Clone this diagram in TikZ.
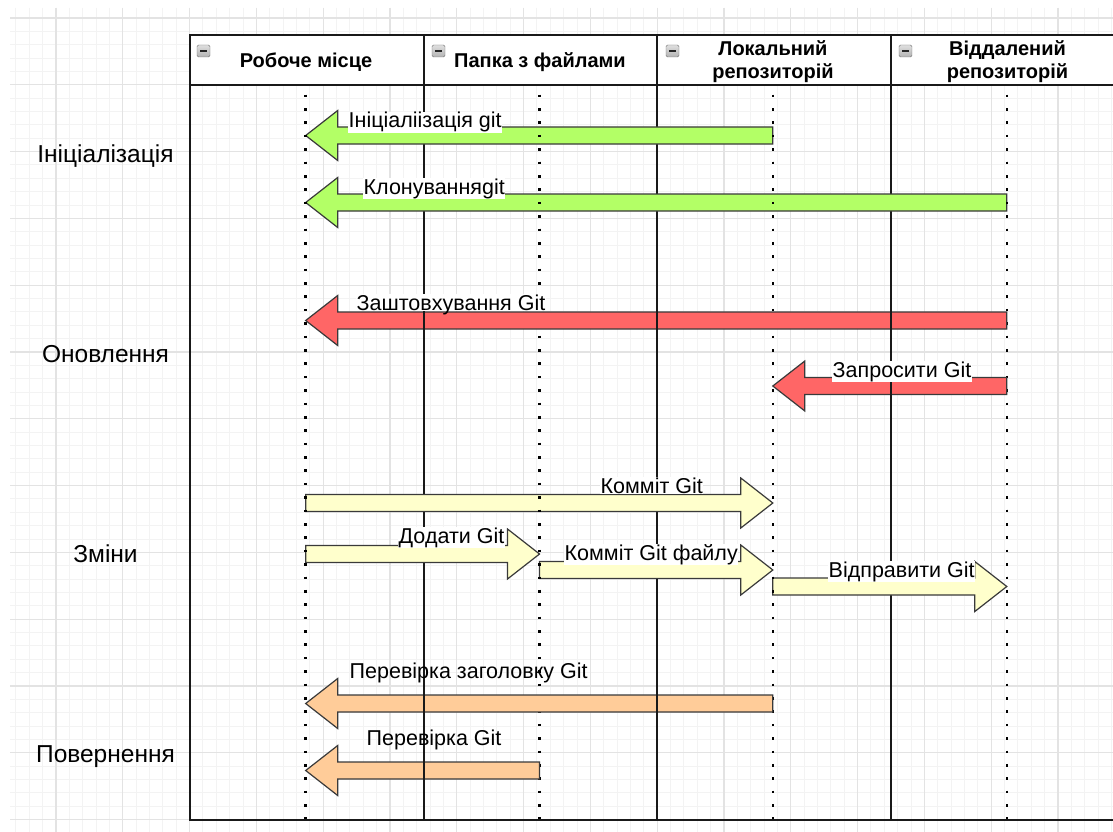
\documentclass[tikz,border=0pt]{standalone}
\usepackage{fontspec}
\setmainfont{Liberation Sans}
\definecolor{grnF}{HTML}{B3FF66}
\definecolor{redF}{HTML}{FF6666}
\definecolor{yelF}{HTML}{FFFFCC}
\definecolor{orgF}{HTML}{FFCC99}
\definecolor{gridMaj}{HTML}{E3E3E3}
\definecolor{gridMin}{HTML}{F3F3F3}
\definecolor{edgeC}{HTML}{3A3A3A}
\newcommand{\xW}{305.7}
\newcommand{\xF}{539.5}
\newcommand{\xL}{772.8}
\newcommand{\xR}{1006.8}
% block arrow: name, tail x, tip x, centre y, fill colour
\newcommand{\blkarrow}[5]{%
  \pgfmathsetmacro{\hx}{(#3<#2) ? #3+32 : #3-32}%
  \draw[blockarrow,fill=#5] (#2,#4-8.5) coordinate (#1-tail) -- (\hx,#4-8.5) -- (\hx,#4-25) -- (#3,#4) coordinate (#1-tip) -- (\hx,#4+25) -- (\hx,#4+8.5) -- (#2,#4+8.5) -- cycle;}
\newcommand{\minusicon}[2]{%
  \draw[iconbox] (#1,#2) rectangle ++(13,12);
  \draw[line width=1.4pt, black!85] (#1+3,#2+6) -- (#1+10,#2+6);}
\begin{document}
\begin{tikzpicture}[x=1pt,y=-1pt,
  blockarrow/.style={draw=edgeC, line width=1.2pt, line join=miter},
  lifeline/.style={line width=2.6pt, black, dash pattern=on 2.6pt off 10.785pt},
  frameline/.style={line width=2pt, black!90},
  divider/.style={line width=1.7pt, black!90},
  iconbox/.style={rounded corners=1.5pt, draw=black!55, top color=gray!25, bottom color=gray!60},
  hdr/.style={font=\fontsize{20}{23}\selectfont\bfseries, inner sep=0pt, text=black},
  side/.style={font=\fontsize{24.5}{28}\selectfont, inner sep=0pt, text=black},
  albl/.style={font=\fontsize{21.5}{25}\selectfont, inner xsep=0.5pt, inner ysep=0.5pt, text=black},
  wlbl/.style={albl, fill=white},
  tlbl/.style={albl, fill=white, text depth=0pt}]
\useasboundingbox (0,0) rectangle (1113,832);
\fill[white] (0,0) rectangle (1113,832);
% grid
\begin{scope}
  \clip (10,8) rectangle (1113,832);
  \foreach \i in {-4,...,80} {\draw[gridMin, line width=1pt] ({56+\i*13.36},8) -- ({56+\i*13.36},832);}
  \foreach \j in {-1,...,61} {\draw[gridMin, line width=1pt] (10,{18+\j*13.36}) -- (1113,{18+\j*13.36});}
  \foreach \i in {-1,...,16} {\draw[gridMaj, line width=1.2pt] ({56+\i*66.8},8) -- ({56+\i*66.8},832);}
  \foreach \j in {0,...,12} {\draw[gridMaj, line width=1.2pt] (10,{18+\j*66.8}) -- (1113,{18+\j*66.8});}
\end{scope}
% header background
\fill[white] (189.5,35.5) rectangle (1113,85.5);
% lifelines
\coordinate (lwT) at (\xW,94.7); \coordinate (lwB) at (\xW,820);
\coordinate (lfT) at (\xF,94.7); \coordinate (lfB) at (\xF,820);
\coordinate (llT) at (\xL,94.7); \coordinate (llB) at (\xL,820);
\coordinate (lrT) at (\xR,94.7); \coordinate (lrB) at (\xR,820);
\draw[lifeline] (lwT) -- (lwB);
\draw[lifeline] (lfT) -- (lfB);
\draw[lifeline] (llT) -- (llB);
\draw[lifeline] (lrT) -- (lrB);
% red and orange arrows
\blkarrow{a3}{\xR}{\xW}{320.5}{redF}
\blkarrow{a4}{\xR}{\xL}{386}{redF}
\blkarrow{a9}{\xL}{\xW}{703.5}{orgF}
\blkarrow{a10}{\xF}{\xW}{770.5}{orgF}
% column dividers
\coordinate (d1T) at (424,35.5); \coordinate (d1B) at (424,819.5);
\coordinate (d2T) at (657,35.5); \coordinate (d2B) at (657,819.5);
\coordinate (d3T) at (891,35.5); \coordinate (d3B) at (891,819.5);
\draw[divider] (d1T) -- (d1B);
\draw[divider] (d2T) -- (d2B);
\draw[divider] (d3T) -- (d3B);
% green and yellow arrows
\blkarrow{a1}{\xL}{\xW}{135.5}{grnF}
\blkarrow{a2}{\xR}{\xW}{202.5}{grnF}
\blkarrow{a5}{\xW}{\xL}{503}{yelF}
\blkarrow{a6}{\xW}{\xF}{554}{yelF}
\blkarrow{a7}{\xF}{\xL}{570}{yelF}
\blkarrow{a8}{\xL}{\xR}{586.5}{yelF}
% lifelines again over green / yellow arrows
\begin{scope}
  \clip (0,100) rectangle (1113,236) (0,470) rectangle (1113,616);
  \draw[lifeline] (lwT) -- (lwB);
  \draw[lifeline] (lfT) -- (lfB);
  \draw[lifeline] (llT) -- (llB);
  \draw[lifeline] (lrT) -- (lrB);
\end{scope}
% arrow labels
\node[wlbl, anchor=base west] (t1) at (348,128) {Ініціаліізація git};
\node[wlbl, anchor=base west] (t2) at (363,194) {Клонуванняgit};
\node[tlbl, anchor=base west] (t3) at (356,310) {Заштовхування Git};
\node[wlbl, anchor=base west] (t4) at (832,377) {Запросити Git};
\node[tlbl, anchor=base west] (t5) at (600,493) {Комміт Git};
\node[wlbl, anchor=base west] (t6) at (398,543) {Додати Git};
\node[wlbl, anchor=base west] (t7) at (564,560) {Комміт Git файлу};
\node[wlbl, anchor=base west] (t8) at (828,577) {Відправити Git};
\node[albl, anchor=base west] (t9) at (349,678) {Перевірка заголовку Git};
\node[albl, anchor=base west] (t10) at (366,745) {Перевірка Git};
% table frame
\draw[frameline] (1113,35.5) -- (189.5,35.5) -- (189.5,819.5) -- (1113,819.5);
\draw[frameline] (189.5,85.5) -- (1113,85.5);
\draw[divider] (d1T) -- (424,85.5);
\draw[divider] (d2T) -- (657,85.5);
\draw[divider] (d3T) -- (891,85.5);
% header
\minusicon{197}{45}
\minusicon{432}{45}
\minusicon{666}{45}
\minusicon{899}{45}
\node[hdr, anchor=base] (h1) at (306,68) {Робоче місце};
\node[hdr, anchor=base] (h2) at (540,68) {Папка з файлами};
\node[hdr, anchor=base] (h3a) at (773,56) {Локальний};
\node[hdr, anchor=base] (h3b) at (773,79) {репозиторій};
\node[hdr, anchor=base] (h4a) at (1007.5,56) {Віддалений};
\node[hdr, anchor=base] (h4b) at (1007.5,79) {репозиторій};
% stage labels
\node[side, anchor=base] (s1) at (105.5,162) {Ініціалізація};
\node[side, anchor=base] (s2) at (105.5,362) {Оновлення};
\node[side, anchor=base] (s3) at (105.5,562) {Зміни};
\node[side, anchor=base] (s4) at (105.5,762) {Повернення};
\end{tikzpicture}
\end{document}
